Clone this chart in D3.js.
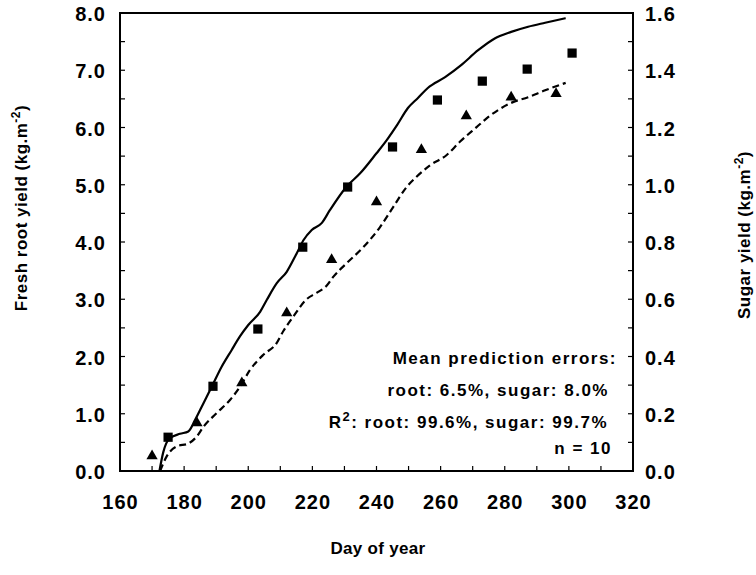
<!DOCTYPE html>
<html>
<head>
<meta charset="utf-8">
<script src="https://cdn.jsdelivr.net/npm/d3@7"></script>
<style>
  body { margin: 0; background: #fff; }
  svg { font-family: "Liberation Sans", Arial, sans-serif; }
</style>
</head>
<body>
<svg id="chart" width="756" height="575"></svg>
<script>
// observed data (every 14 days)
const rootDays = [175, 189, 203, 217, 231, 245, 259, 273, 287, 301]
const rootObs = [0.59, 1.48, 2.48, 3.91, 4.96, 5.66, 6.48, 6.81, 7.02, 7.30]
const sugarDays = [170, 184, 198, 212, 226, 240, 254, 268, 282, 296]
const sugarObs = [0.052, 0.168, 0.307, 0.552, 0.738, 0.94, 1.122, 1.24, 1.306, 1.318]

// simulated root yield (solid line, left axis)
const rootSimDays = [172.3, 173.5, 175.3, 178.7, 181.3, 183.4, 186, 188.6, 191.7, 194.8, 197.4, 200, 203.7, 205.8,
  208.9, 212, 215.1, 217.2, 219.8, 222.9, 225.5, 230.7, 234.9, 240, 243.2, 246.5, 249.8, 253, 256, 261.4, 266.4,
  271.7, 277, 282, 287.3, 292.6, 299]
const rootSim = [0, 0.33, 0.56, 0.65, 0.69, 0.89, 1.18, 1.47, 1.82, 2.11, 2.35, 2.55, 2.78, 2.99,
  3.28, 3.48, 3.80, 4.03, 4.21, 4.33, 4.56, 4.97, 5.20, 5.55, 5.78, 6.05, 6.34, 6.52, 6.69, 6.88, 7.09,
  7.35, 7.56, 7.67, 7.76, 7.83, 7.91]

// simulated sugar yield (dashed line, right axis)
const sugarSimDays = [172.5, 174.6, 177.7, 181.3, 183.9, 186, 190.1, 194.3, 197.4, 200.5, 204.7, 208.8, 211, 214.1,
  218.2, 221.3, 224.5, 226.5, 230.7, 235.9, 241.1, 245.2, 249.4, 252.5, 256.7, 261.9, 266, 271.3, 274.8, 282,
  287.3, 292.6, 299]
const sugarSim = [0, 0.052, 0.086, 0.096, 0.12, 0.154, 0.202, 0.248, 0.294, 0.352, 0.406, 0.446, 0.49, 0.54,
  0.60, 0.622, 0.648, 0.678, 0.726, 0.782, 0.852, 0.922, 0.992, 1.028, 1.068, 1.104, 1.15, 1.202, 1.236, 1.286,
  1.306, 1.33, 1.356]

const annotations = ['Mean prediction errors:', 'root: 6.5%, sugar: 8.0%', ': root: 99.6%, sugar: 99.7%', 'n = 10']

const svg = d3.select('#chart')
const plotLeft = 120, plotRight = 633, plotTop = 13, plotBottom = 471

const x = d3.scaleLinear().domain([160, 320]).range([plotLeft, plotRight])
const yRoot = d3.scaleLinear().domain([0, 8]).range([plotBottom, plotTop])
const ySugar = d3.scaleLinear().domain([0, 1.6]).range([plotBottom, plotTop])

// frame
svg.append('rect')
  .attr('x', plotLeft).attr('y', plotTop)
  .attr('width', plotRight - plotLeft).attr('height', plotBottom - plotTop)
  .attr('fill', 'none').attr('stroke', '#000').attr('stroke-width', 2)

const tickLen = 5
// x ticks, inward
svg.append('g').selectAll('line')
  .data(d3.range(160, 321, 10))
  .join('line')
  .attr('x1', d => x(d)).attr('x2', d => x(d))
  .attr('y1', plotBottom).attr('y2', plotBottom - tickLen)
  .attr('stroke', '#000').attr('stroke-width', 1.2)
svg.append('g').selectAll('text')
  .data(d3.range(160, 321, 20))
  .join('text')
  .attr('x', d => x(d) + 0.5).attr('y', 509)
  .attr('text-anchor', 'middle')
  .attr('font-size', 20).attr('font-weight', 'bold').attr('letter-spacing', 1)
  .text(d => d)

// left ticks
svg.append('g').selectAll('line')
  .data(d3.range(0, 8.01, 0.5))
  .join('line')
  .attr('x1', plotLeft).attr('x2', plotLeft + tickLen)
  .attr('y1', d => yRoot(d)).attr('y2', d => yRoot(d))
  .attr('stroke', '#000').attr('stroke-width', 1.2)
svg.append('g').selectAll('text')
  .data(d3.range(0, 8.01, 1))
  .join('text')
  .attr('x', 106).attr('y', d => yRoot(d) + 8)
  .attr('text-anchor', 'end')
  .attr('font-size', 20).attr('font-weight', 'bold').attr('letter-spacing', 1)
  .text(d => d3.format('.1f')(d))

// right ticks
svg.append('g').selectAll('line')
  .data(d3.range(0, 16.01, 1).map(d => d / 10))
  .join('line')
  .attr('x1', plotRight).attr('x2', plotRight - tickLen)
  .attr('y1', d => ySugar(d)).attr('y2', d => ySugar(d))
  .attr('stroke', '#000').attr('stroke-width', 1.2)
svg.append('g').selectAll('text')
  .data(d3.range(0, 8.01, 1).map(d => d / 5))
  .join('text')
  .attr('x', 645).attr('y', d => ySugar(d) + 8)
  .attr('text-anchor', 'start')
  .attr('font-size', 20).attr('font-weight', 'bold').attr('letter-spacing', 1)
  .text(d => d3.format('.1f')(d))

// axis titles
const unitTitle = (g, label) => {
  g.append('tspan').text(label + ' (kg.m')
  g.append('tspan').attr('baseline-shift', 'super').attr('font-size', 12).text('-2')
  g.append('tspan').text(')')
}
const lt = svg.append('text')
  .attr('transform', 'translate(27,208) rotate(-90)')
  .attr('text-anchor', 'middle').attr('font-size', 17).attr('font-weight', 'bold').attr('letter-spacing', 0.5)
unitTitle(lt, 'Fresh root yield')
const rt = svg.append('text')
  .attr('transform', 'translate(750,235) rotate(-90)')
  .attr('text-anchor', 'middle').attr('font-size', 17).attr('font-weight', 'bold').attr('letter-spacing', 0.5)
unitTitle(rt, 'Sugar yield')
svg.append('text')
  .attr('x', 378).attr('y', 554)
  .attr('text-anchor', 'middle').attr('font-size', 17).attr('font-weight', 'bold').attr('letter-spacing', 0.3)
  .text('Day of year')

// simulated lines
const rootLine = d3.line().x(d => x(d[0])).y(d => yRoot(d[1])).curve(d3.curveMonotoneX)
const sugarLine = d3.line().x(d => x(d[0])).y(d => ySugar(d[1])).curve(d3.curveMonotoneX)
svg.append('path')
  .datum(d3.zip(rootSimDays, rootSim))
  .attr('d', rootLine)
  .attr('fill', 'none').attr('stroke', '#000').attr('stroke-width', 2.2)
svg.append('path')
  .datum(d3.zip(sugarSimDays, sugarSim))
  .attr('d', sugarLine)
  .attr('fill', 'none').attr('stroke', '#000').attr('stroke-width', 2.2)
  .attr('stroke-dasharray', '7,4')

// observed markers
svg.append('g').selectAll('path')
  .data(d3.zip(rootDays, rootObs))
  .join('path')
  .attr('transform', d => `translate(${x(d[0])},${yRoot(d[1])})`)
  .attr('d', d3.symbol(d3.symbolSquare, 85))
  .attr('fill', '#000')
svg.append('g').selectAll('path')
  .data(d3.zip(sugarDays, sugarObs))
  .join('path')
  .attr('transform', d => `translate(${x(d[0])},${ySugar(d[1])})`)
  .attr('d', d3.symbol(d3.symbolTriangle, 55))
  .attr('fill', '#000')

// annotation text
const ann = svg.append('g')
  .attr('font-size', 17).attr('font-weight', 'bold').attr('text-anchor', 'end').attr('letter-spacing', 1.5)
ann.append('text').attr('x', 617).attr('y', 364).text(annotations[0])
ann.append('text').attr('x', 609).attr('y', 396).text(annotations[1])
const r2 = ann.append('text').attr('x', 608).attr('y', 428)
r2.append('tspan').text('R')
r2.append('tspan').attr('baseline-shift', 'super').attr('font-size', 13).text('2')
r2.append('tspan').text(annotations[2])
ann.append('text').attr('x', 612).attr('y', 454).text(annotations[3])
</script>
</body>
</html>
